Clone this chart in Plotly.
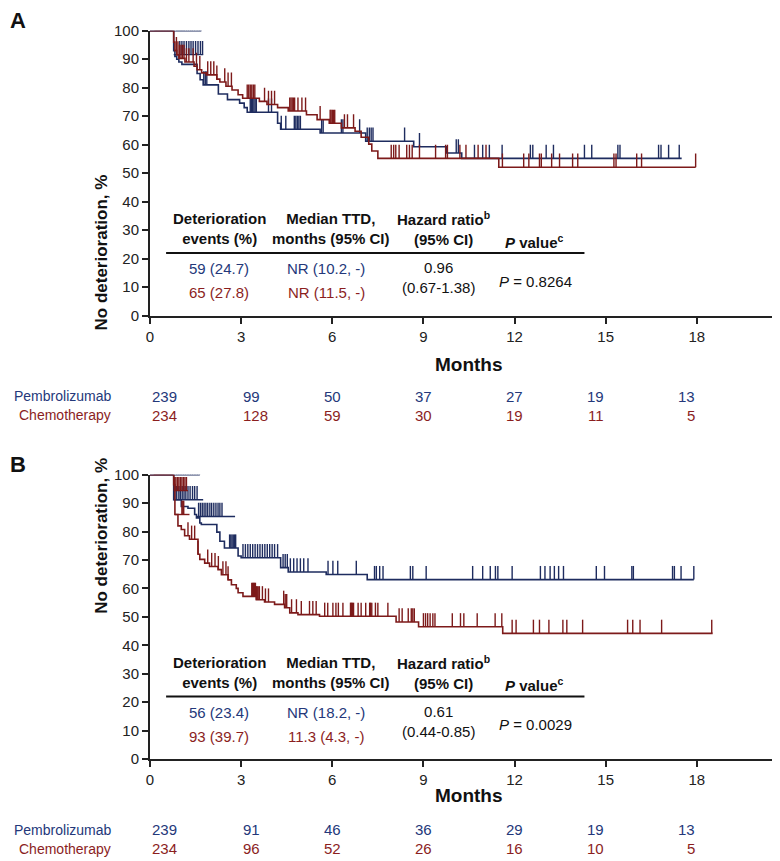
import numpy as np
import plotly.graph_objects as go

BLUE = '#1e2c5f'
RED = '#7d1a1a'
BLUE_TXT = '#24387a'
RED_TXT = '#8b1e1e'
AXIS = '#222222'
NARROW = 'Liberation Sans Narrow, Arial Narrow, Liberation Sans, Arial, sans-serif'
SANS = 'Liberation Sans, Arial, sans-serif'

month_ticks = [0, 3, 6, 9, 12, 15, 18]
pct_ticks = [0, 10, 20, 30, 40, 50, 60, 70, 80, 90, 100]

# ---- Panel A: Kaplan-Meier steps (months, % without deterioration)
a_pem_t = [0, 0.78, 0.82, 0.88, 0.95, 1.05, 1.55, 1.65, 1.75, 2.25, 2.55, 2.95, 3.1, 3.2,
           4.2, 4.3, 5.6, 7.1, 8.68, 9.75, 10.26, 17.5]
a_pem_s = [100, 93, 91, 90, 89, 88.2, 85, 82.8, 81, 77.8, 75.8, 74.6, 73, 71.4,
           67.5, 65.4, 64.1, 61.2, 59.3, 57.1, 55.2, 55.2]
a_chemo_t = [0, 0.78, 0.82, 0.88, 0.95, 1.15, 1.45, 1.55, 1.7, 1.85, 2.2, 2.3, 2.5, 2.7, 2.9,
             3.05, 3.6, 3.85, 4.2, 4.55, 5.15, 5.5, 5.9, 6.3, 6.75, 6.95, 7.2, 7.3, 7.5, 11.48, 17.96]
a_chemo_s = [100, 96, 93, 91.5, 90.3, 89, 87.5, 86.3, 85.2, 84.5, 83, 82, 80.5, 79.2, 77.5,
             76.3, 75.2, 74.1, 73, 71.8, 70.5, 68.8, 67.5, 65.9, 64.7, 62.6, 60.2, 57.8, 55.2, 52.1, 52.1]

# censor marks: (level or None = on the curve, times)
a_pem_cens = [
    (100, [0.88, 0.93, 0.98, 1.03, 1.08, 1.13, 1.2, 1.27, 1.34, 1.4, 1.47, 1.55, 1.62, 1.68]),
    (91.6, [0.98, 1.05, 1.12, 1.2, 1.28, 1.35, 1.42, 1.5, 1.58, 1.66, 1.73]),
    (None, [1.77, 1.82, 1.87, 3.3, 3.34, 3.38, 3.42, 3.46, 3.5, 3.9, 4.0, 4.32, 4.47,
            4.75, 4.8, 4.85, 4.9, 4.95, 5.65, 5.7, 6.3, 6.35, 6.9, 7.15, 7.22, 7.28, 7.34,
            8.38, 8.87, 10.08, 10.15, 10.68, 10.95, 11.17, 11.59, 12.52, 12.6, 13.04, 13.28,
            14.3, 14.54, 15.4, 15.47, 16.74, 16.82, 17.07, 17.42]),
]
a_chemo_cens = [
    (None, [0.17, 0.22, 0.27, 0.32, 0.37, 0.42, 0.47, 0.52, 0.57, 0.62, 0.67, 0.72,
            0.87, 0.92, 0.97, 1.02, 1.07, 1.12, 1.2, 1.28, 1.42, 1.53, 1.64,
            1.9, 2.0, 2.1, 2.2, 2.46, 2.57, 2.68, 3.2, 3.25, 3.3, 3.35, 3.4, 3.45,
            3.77, 3.9, 4.0, 4.1, 4.6, 4.64, 4.68, 4.72, 4.76, 4.87, 5.0, 5.12,
            5.6, 5.93, 5.96, 6.0, 6.04, 6.08, 6.4, 6.5, 6.7,
            7.94, 8.02, 8.09, 8.2, 8.45, 8.54, 8.63, 8.87, 9.4, 9.73, 9.79, 10.2, 10.4, 10.8, 11.06,
            11.6, 12.3, 12.47, 12.82, 12.88, 13.22, 13.48, 13.91, 14.08, 15.27, 15.34, 16.02,
            16.18, 17.96]),
]
# short horizontal strokes that carry early censor marks
a_pem_extra = [(100, 0, 1.69), (91.6, 0.78, 1.75)]
a_chemo_extra = []

# ---- Panel B
b_pem_t = [0, 0.78, 1.03, 1.25, 1.47, 1.53, 1.64, 1.69, 2.2, 2.3, 2.45, 2.9, 3.0, 4.3,
           4.55, 5.8, 7.15, 17.9]
b_pem_s = [100, 91.2, 88.8, 88.2, 86, 84.8, 83, 82.5, 79.8, 76.6, 74.2, 71.4, 70.8, 67.3,
           65.8, 64.9, 63.1, 63.1]
b_chemo_t = [0, 0.78, 0.82, 0.92, 1.03, 1.14, 1.3, 1.58, 1.64, 1.8, 1.96, 2.24, 2.35, 2.57,
             2.68, 2.84, 2.9, 3.06, 3.5, 3.77, 4.1, 4.43, 4.6, 4.87, 5.58, 8.1, 8.84, 11.61, 18.52]
b_chemo_s = [100, 96.5, 86, 82, 80.7, 78.5, 77.3, 72, 70.2, 68.9, 67.7, 66.6, 64.8, 63,
             61.3, 60, 58.5, 57.2, 56, 55.2, 54.4, 53.2, 51.4, 50.8, 50.2, 48.2, 46.5, 44.2, 44.2]

b_pem_cens = [
    (100, [0.88, 0.95, 1.02, 1.1, 1.17, 1.25, 1.33, 1.4, 1.48, 1.56, 1.63]),
    (91.2, [0.82, 0.88, 0.95, 1.0, 1.06, 1.12, 1.18, 1.25, 1.32, 1.4, 1.47, 1.55]),
    (85.3, [1.6, 1.66, 1.72, 1.78, 1.84, 1.9, 1.97, 2.03, 2.1, 2.17, 2.24, 2.3, 2.37]),
    (None, [2.62, 2.66, 2.7, 2.74, 2.78, 2.82,
            3.06, 3.14, 3.22, 3.3, 3.38, 3.46, 3.54, 3.62, 3.7, 3.78, 3.86, 3.94, 4.02, 4.1, 4.2,
            4.38, 4.45, 4.52, 4.62, 4.73, 4.84, 4.95, 5.06, 5.2, 5.86, 6.02, 6.18, 6.79,
            7.39, 7.45, 7.56, 7.67,
            8.57, 8.65, 9.09, 10.62, 10.95, 11.2, 11.37, 11.45, 11.92, 12.85, 13.0, 13.17,
            13.31, 13.45, 13.61, 14.69, 14.96, 15.86, 15.91, 17.2, 17.26, 17.48, 17.9]),
]
b_chemo_cens = [
    (None, [0.14, 0.17, 0.2, 0.23, 0.26, 0.29, 0.32, 0.35, 0.38, 0.41, 0.44, 0.47, 0.5,
            0.53, 0.56, 0.59, 0.62, 0.65, 0.68, 0.71, 0.74]),
    (94.4, [0.8, 0.85, 0.9, 0.95, 1.0, 1.05, 1.1, 1.15, 1.2]),
    (86, [1.05, 1.08, 1.11]),
    (None, [1.25, 1.37, 1.47, 1.58, 1.9, 2.03, 2.14, 2.25, 2.4, 2.5, 2.57,
            3.35, 3.38, 3.41, 3.44, 3.47, 3.5, 3.53, 3.56, 3.6, 3.7, 3.8, 3.9, 4.4, 4.45, 4.5,
            4.66, 4.82, 4.98, 5.25, 5.36, 5.47,
            5.75, 5.85, 6.02, 6.12, 6.2, 6.35, 6.6, 6.63, 6.66, 6.7, 6.85, 6.95, 7.1, 7.23,
            7.26, 7.3, 7.42, 7.5, 7.83,
            8.2, 8.3, 8.5, 8.6, 8.65, 8.7,
            9.0, 9.07, 9.14, 9.22, 9.31, 9.38, 9.95, 10.22, 10.33, 10.77, 11.36, 11.58,
            11.92, 12.05, 12.62, 12.82, 13.13, 13.59, 13.72, 14.24, 15.72, 15.89, 16.13,
            16.84, 18.49]),
]
b_pem_extra = [(100, 0, 1.64), (91.2, 0.78, 1.75), (85.3, 1.53, 2.8)]
b_chemo_extra = [(94.4, 0.78, 1.25), (86, 0.82, 1.3)]

# ---- numbers at risk
arms = ['Pembrolizumab', 'Chemotherapy']
a_risk_pem = [239, 99, 50, 37, 27, 19, 13]
a_risk_chemo = [234, 128, 59, 30, 19, 11, 5]
b_risk_pem = [239, 91, 46, 36, 29, 19, 13]
b_risk_chemo = [234, 96, 52, 26, 16, 10, 5]

# ---- inset summary tables
a_events = ['59 (24.7)', '65 (27.8)']
a_median = ['NR (10.2, -)', 'NR (11.5, -)']
a_hr = ['0.96', '(0.67-1.38)']
a_p = '0.8264'
b_events = ['56 (23.4)', '93 (39.7)']
b_median = ['NR (18.2, -)', '11.3 (4.3, -)']
b_hr = ['0.61', '(0.44-0.85)']
b_p = '0.0029'

TICK = 4.8  # censor mark height, in % units
W, H = 780, 861
X0, XMAX = 142, 21.0          # x pixel of month 0, last month on axis
PPM = (W - X0) / XMAX         # pixels per month


def step_value(ts, ss, t):
    i = np.searchsorted(ts, t, side='right') - 1
    return ss[max(i, 0)]


def xp(m):
    return (X0 + m * PPM) / W


def yp(py):
    return 1 - py / H


fig = go.Figure()


def add_arm(ts, ss, cens, extra, color, xa, ya):
    fig.add_trace(go.Scatter(x=ts, y=ss, mode='lines', line=dict(color=color, width=1.6, shape='hv'),
                             xaxis=xa, yaxis=ya, cliponaxis=False, showlegend=False, hoverinfo='skip'))
    ex, ey = [], []
    for lvl, t0, t1 in extra:
        ex += [t0, t1, None]
        ey += [lvl, lvl, None]
    cx, cy = [], []
    for lvl, times in cens:
        for t in times:
            base = lvl if lvl is not None else step_value(ts, ss, t)
            cx += [t, t, None]
            cy += [base, base + TICK, None]
    fig.add_trace(go.Scatter(x=ex + cx, y=ey + cy, mode='lines', line=dict(color=color, width=1.4),
                             xaxis=xa, yaxis=ya, cliponaxis=False, showlegend=False, hoverinfo='skip'))


def add_panel(label, xr, yref, dy, risk_pem, risk_chemo, events, median, hr, pval):
    # dy: pixel offset of the panel (0 for A)
    fig.add_annotation(text='<b>%s</b>' % label, x=0.0, y=yp(13 + dy), xref='paper', yref='paper',
                       xanchor='left', yanchor='middle', showarrow=False,
                       font=dict(family=SANS, size=22, color='#111'))
    fig.add_annotation(text='<b>No deterioration, %</b>', x=82 / W, y=yp(165 + dy), xref='paper',
                       yref='paper', textangle=-90, showarrow=False,
                       font=dict(family=SANS, size=17, color='#111'))
    fig.add_annotation(text='<b>Months</b>', x=xp(10.5), y=yp(356.7 + dy), xref='paper', yref='paper',
                       showarrow=False, font=dict(family=NARROW, size=19, color='#111'))
    for name, vals, col, py in [(arms[0], risk_pem, BLUE_TXT, 388.3), (arms[1], risk_chemo, RED_TXT, 407.3)]:
        fig.add_annotation(text=name, x=105 / W, y=yp(py + dy), xref='paper', yref='paper',
                           xanchor='right', showarrow=False, font=dict(family=SANS, size=14, color=col))
        for m, v in zip(month_ticks, vals):
            fig.add_annotation(text=str(v), x=xp(m), y=yp(py + dy), xref='paper', yref='paper',
                               showarrow=False, font=dict(family=NARROW, size=15, color=col))
    # inset table (inside the plot area, data coordinates)
    hf = dict(family=NARROW, size=15, color='#111')
    fig.add_annotation(text='<b>Deterioration<br>events (%)</b>', x=2.28, y=30.5, xref=xr, yref=yref,
                       showarrow=False, font=hf)
    fig.add_annotation(text='<b>Median TTD,<br>months (95% CI)</b>', x=5.97, y=30.5, xref=xr, yref=yref,
                       showarrow=False, font=hf)
    fig.add_annotation(text='<b>Hazard ratio<sup>b</sup><br>(95% CI)</b>', x=9.65, y=30.5, xref=xr,
                       yref=yref, showarrow=False, font=hf)
    fig.add_annotation(text='<b><i>P</i> value<sup>c</sup></b>', x=12.64, y=26.1, xref=xr, yref=yref,
                       showarrow=False, font=hf)
    fig.add_shape(type='line', x0=0.53, x1=14.3, y0=22, y1=22, xref=xr, yref=yref,
                  line=dict(color='#111', width=2))
    vf = dict(family=NARROW, size=15)
    for i, (col, yy) in enumerate([(BLUE_TXT, 16.4), (RED_TXT, 8.0)]):
        fig.add_annotation(text=events[i], x=2.28, y=yy, xref=xr, yref=yref, showarrow=False,
                           font=dict(color=col, **vf))
        fig.add_annotation(text=median[i], x=5.8, y=yy, xref=xr, yref=yref, showarrow=False,
                           font=dict(color=col, **vf))
    fig.add_annotation(text=hr[0] + '<br>' + hr[1], x=9.5, y=13.3, xref=xr, yref=yref, showarrow=False,
                       font=dict(color='#111', **vf))
    fig.add_annotation(text='<i>P</i> = ' + pval, x=12.68, y=12.1, xref=xr, yref=yref, showarrow=False,
                       font=dict(color='#111', **vf))


add_arm(a_pem_t, a_pem_s, a_pem_cens, a_pem_extra, BLUE, 'x', 'y')
add_arm(a_chemo_t, a_chemo_s, a_chemo_cens, a_chemo_extra, RED, 'x', 'y')
add_arm(b_pem_t, b_pem_s, b_pem_cens, b_pem_extra, BLUE, 'x2', 'y2')
add_arm(b_chemo_t, b_chemo_s, b_chemo_cens, b_chemo_extra, RED, 'x2', 'y2')

add_panel('A', 'x', 'y', 0, a_risk_pem, a_risk_chemo, a_events, a_median, a_hr, a_p)
add_panel('B', 'x2', 'y2', 443.3, b_risk_pem, b_risk_chemo, b_events, b_median, b_hr, b_p)

xdom = [X0 / W, 1.0]
ax_common = dict(range=[0, XMAX], tickvals=month_ticks, ticks='outside', ticklen=6, tickwidth=1.5,
                 tickcolor=AXIS, showline=True, linecolor=AXIS, linewidth=2, showgrid=False,
                 zeroline=False, tickfont=dict(family=NARROW, size=15, color='#222'), automargin=False)
ay_common = dict(range=[0, 100], tickvals=pct_ticks, ticks='outside', ticklen=6, tickwidth=1.5,
                 tickcolor=AXIS, showline=True, linecolor=AXIS, linewidth=2, showgrid=False,
                 zeroline=False, tickfont=dict(family=SANS, size=15, color='#222'), automargin=False)

fig.update_layout(
    width=W, height=H,
    margin=dict(l=0, r=0, t=0, b=0),
    plot_bgcolor='white', paper_bgcolor='white',
    xaxis=dict(domain=xdom, anchor='y', **ax_common),
    yaxis=dict(domain=[yp(307.7), yp(22.7)], anchor='x', **ay_common),
    xaxis2=dict(domain=xdom, anchor='y2', **ax_common),
    yaxis2=dict(domain=[yp(751), yp(466.7)], anchor='x2', **ay_common),
)

fig.write_html('out.html')
